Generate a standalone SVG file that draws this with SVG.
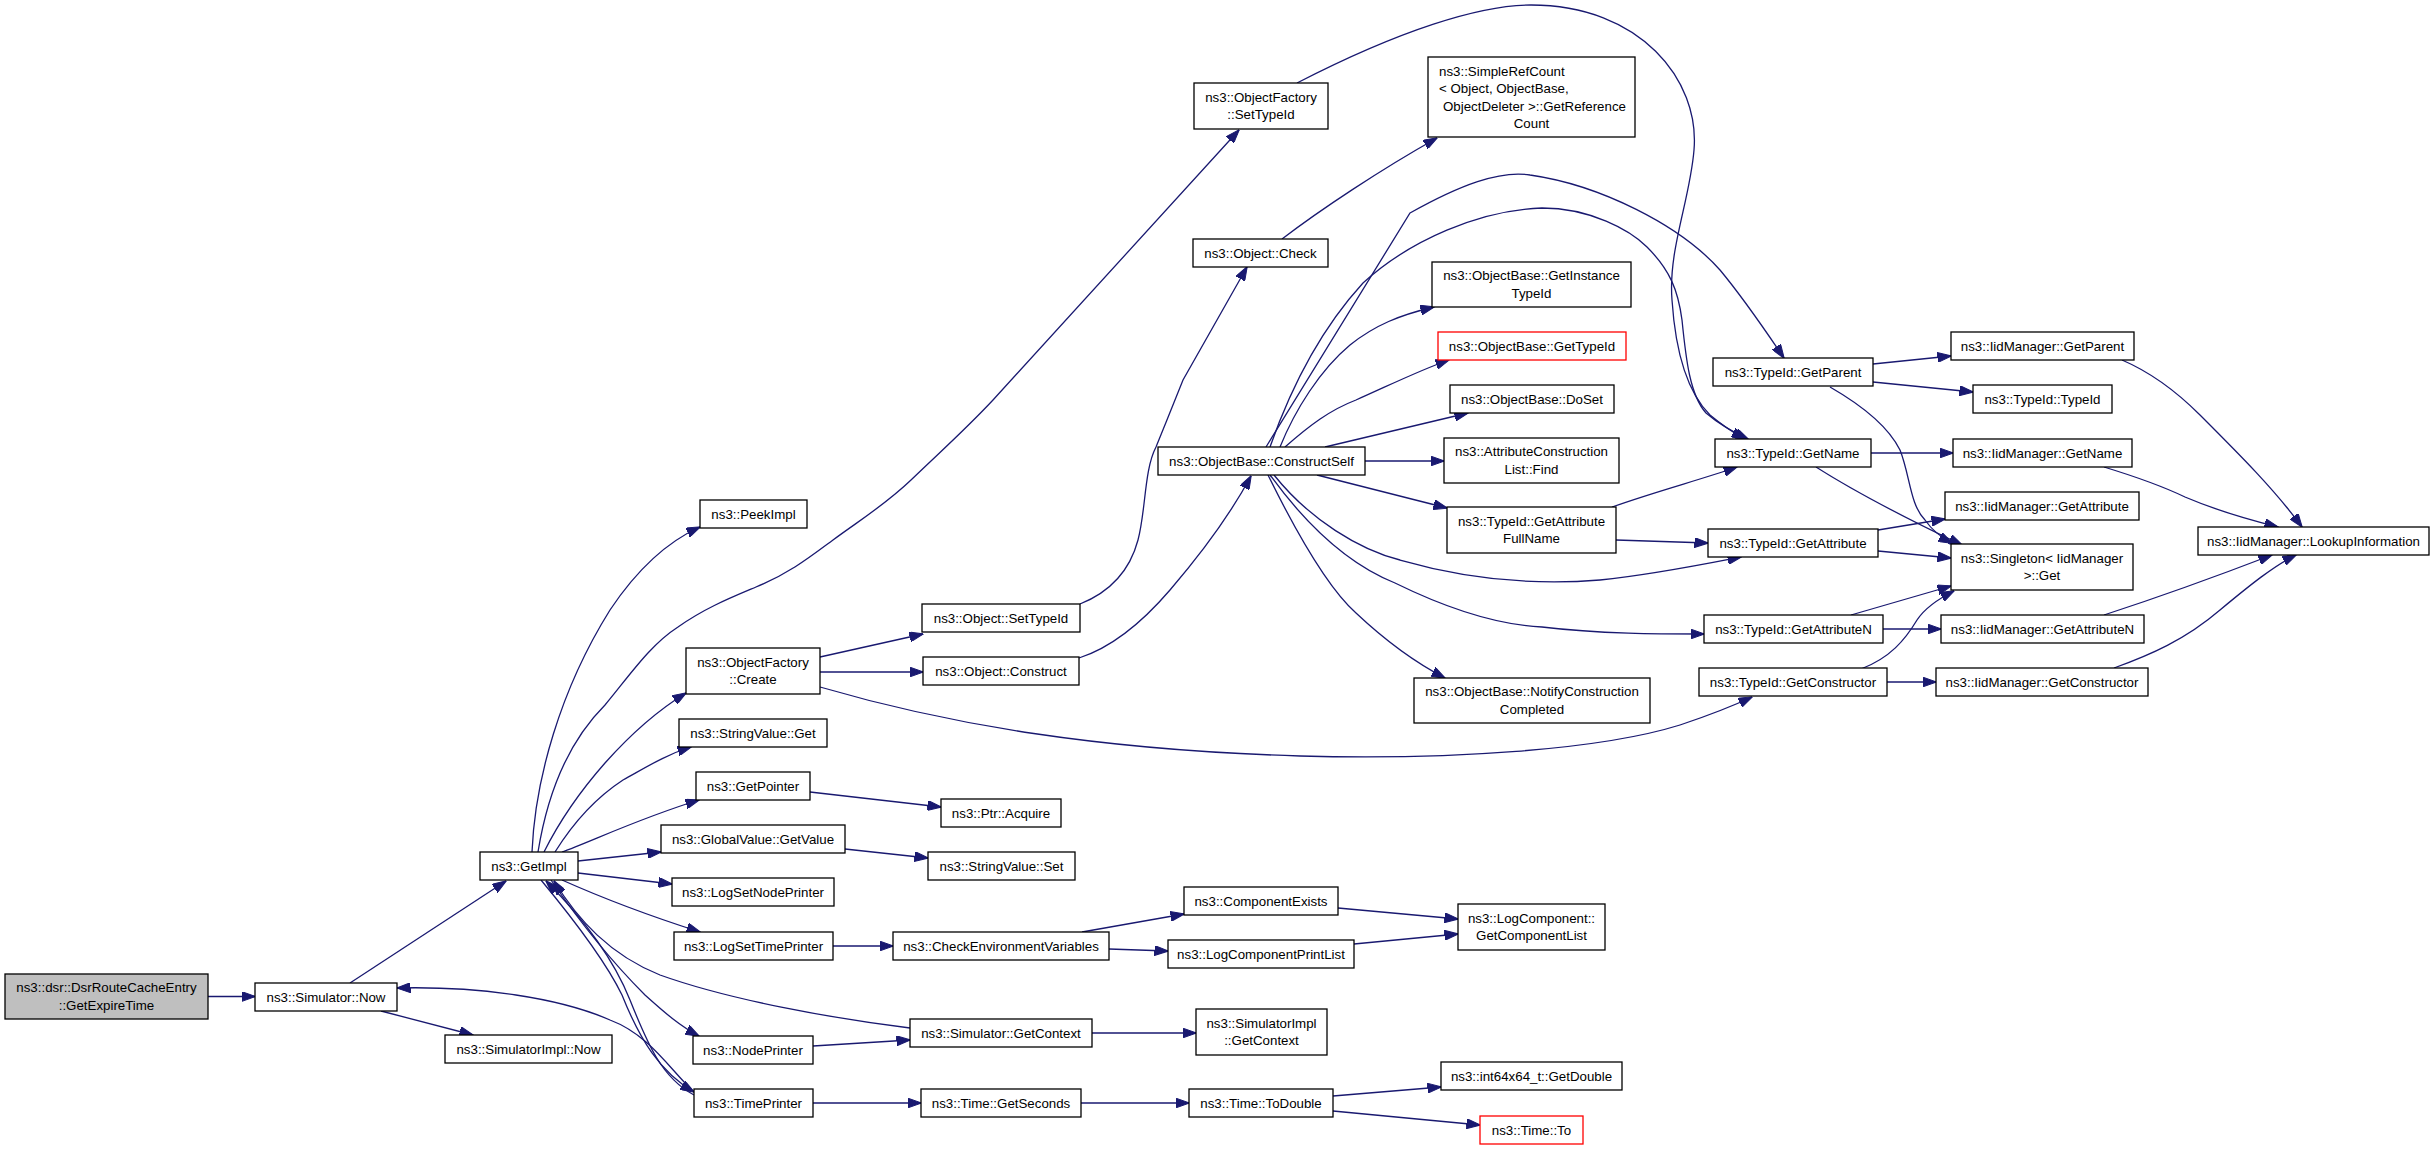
<svg xmlns="http://www.w3.org/2000/svg" width="2435" height="1150" viewBox="0 0 2435 1150">
<style>
.n rect{fill:#ffffff;stroke:#000000;stroke-width:1.3}
.root rect{fill:#bfbfbf}
.red rect{stroke:#ff0000}
text{font-family:"Liberation Sans",Arial,Helvetica,sans-serif;font-size:13.3px;fill:#000000;text-anchor:middle}
text.l{text-anchor:start}
.e path{fill:none;stroke:#191970;stroke-width:1.3;marker-end:url(#a)}
</style>
<defs>
<marker id="a" viewBox="0 0 14 10" refX="13.5" refY="5" markerWidth="14" markerHeight="10" markerUnits="userSpaceOnUse" orient="auto">
<path d="M0,0 L14,5 L0,10 z" fill="#191970" stroke="#191970" stroke-width="1"/>
</marker>
</defs>
<rect x="0" y="0" width="2435" height="1150" fill="#ffffff"/>
<g id="edges" class="e">
<path d="M208,996.5 L255,996.5"/>
<path d="M350,983 L506,881"/>
<path d="M381,1011 L473,1035"/>
<path d="M694,1092 C670,1070 650,1035 610,1020 C560,998 480,986 397,988"/>
<path d="M532,852 C535,780 560,690 610,610 C630,580 660,545 700,527"/>
<path d="M538,852 C548,790 570,740 605,705 C630,675 650,645 678,627 C705,608 730,598 756,587 C790,573 810,557 833,540 C860,520 885,505 911,480 C940,452 965,430 993,400 L1239,130"/>
<path d="M544,852 C565,810 590,780 605,763 C630,735 655,712 686,693"/>
<path d="M555,852 C575,820 600,795 623,780 C645,768 665,755 691,747"/>
<path d="M562,852 C590,842 640,818 699,800"/>
<path d="M578,861 L661,852"/>
<path d="M578,873 L672,884"/>
<path d="M562,880 C600,897 650,916 700,932"/>
<path d="M551,880 C575,915 610,960 645,995 C665,1013 680,1026 699,1036"/>
<path d="M541,880 C570,915 605,960 622,995 C640,1040 660,1072 694,1092"/>
<path d="M694,1095 C662,1078 648,1045 630,1000 C612,955 580,915 546,881"/>
<path d="M910,1028 C830,1018 730,1000 660,975 C610,955 578,920 554,881"/>
<path d="M820,657 L923,634"/>
<path d="M820,672 L923,672"/>
<path d="M820,687 C950,725 1100,750 1300,756 C1450,760 1600,750 1680,725 C1710,715 1735,705 1752,697"/>
<path d="M1080,604 C1110,592 1130,570 1138,540 C1146,510 1144,470 1156,447 C1165,425 1175,400 1183,380 L1247,267"/>
<path d="M1079,658 C1110,648 1140,625 1170,590 C1200,555 1230,515 1251,476"/>
<path d="M1282,239 C1320,210 1380,170 1437,138"/>
<path d="M1266,447 L1410,213 C1460,185 1500,170 1530,175 C1600,185 1680,225 1720,270 C1745,300 1765,330 1784,358"/>
<path d="M1270,447 C1290,390 1320,330 1363,283 C1410,240 1480,210 1542,208 C1590,208 1630,230 1647,247 C1670,270 1678,290 1682,320 C1686,360 1690,395 1706,413 C1720,425 1735,433 1748,439"/>
<path d="M1297,83 C1400,30 1480,5 1531,5 C1640,5 1700,80 1694,150 C1690,200 1668,250 1672,300 C1676,360 1690,395 1710,415 C1722,425 1732,432 1745,439"/>
<path d="M1280,447 C1295,410 1320,370 1350,345 C1375,325 1400,315 1434,307"/>
<path d="M1285,447 C1310,425 1330,410 1356,400 C1390,385 1420,370 1449,360"/>
<path d="M1325,447 L1468,413"/>
<path d="M1365,461 L1444,461"/>
<path d="M1317,475 L1447,508"/>
<path d="M1274,475 C1310,520 1360,550 1400,560 C1470,580 1540,585 1600,580 C1650,575 1700,565 1741,557"/>
<path d="M1270,475 C1310,530 1350,565 1395,583 C1450,610 1500,625 1542,627 C1600,634 1660,634 1704,634"/>
<path d="M1268,475 C1300,540 1330,590 1356,613 C1390,645 1420,665 1445,678"/>
<path d="M1612,507 C1660,490 1700,480 1737,467"/>
<path d="M1616,540 L1708,543"/>
<path d="M1873,364 L1951,356"/>
<path d="M1873,382 L1973,392"/>
<path d="M1830,387 C1870,410 1890,430 1900,450 C1910,475 1910,505 1925,520 C1932,530 1942,538 1952,543"/>
<path d="M1871,453 L1953,453"/>
<path d="M1816,467 C1860,495 1920,525 1962,545"/>
<path d="M1878,530 L1945,519"/>
<path d="M1878,551 L1951,558"/>
<path d="M1851,615 L1951,586"/>
<path d="M1883,629 L1941,629"/>
<path d="M1861,669 C1890,658 1905,640 1917,620 C1925,608 1940,598 1954,591"/>
<path d="M1887,682 L1936,682"/>
<path d="M2122,360 C2150,372 2175,390 2200,415 C2240,455 2275,490 2302,527"/>
<path d="M2104,467 C2140,478 2160,485 2185,497 C2220,512 2250,520 2278,527"/>
<path d="M2104,615 C2150,600 2220,575 2272,555"/>
<path d="M2114,668 C2150,655 2185,640 2220,610 C2250,585 2275,565 2296,555"/>
<path d="M810,792 L941,807"/>
<path d="M845,849 L928,858"/>
<path d="M833,946 L893,946"/>
<path d="M1082,932 L1184,914"/>
<path d="M1109,949 L1168,951"/>
<path d="M1338,908 L1458,919"/>
<path d="M1354,944 L1458,934"/>
<path d="M1092,1033 L1196,1033"/>
<path d="M813,1046 L910,1040"/>
<path d="M813,1103 L921,1103"/>
<path d="M1081,1103 L1189,1103"/>
<path d="M1333,1096 L1441,1087"/>
<path d="M1333,1111 L1480,1125"/>
</g>
<g id="root" class="n root"><rect x="5" y="974" width="203" height="45"/><text x="106.5" y="992">ns3::dsr::DsrRouteCacheEntry</text><text x="106.5" y="1009.5">::GetExpireTime</text></g>
<g id="simNow" class="n"><rect x="255" y="983" width="142" height="28"/><text x="326" y="1001.5">ns3::Simulator::Now</text></g>
<g id="getImpl" class="n"><rect x="480" y="852" width="98" height="28"/><text x="529" y="870.5">ns3::GetImpl</text></g>
<g id="simImplNow" class="n"><rect x="445" y="1035" width="167" height="28"/><text x="528.5" y="1053.5">ns3::SimulatorImpl::Now</text></g>
<g id="peekImpl" class="n"><rect x="700" y="500" width="107" height="28"/><text x="753.5" y="518.5">ns3::PeekImpl</text></g>
<g id="ofSetTypeId" class="n"><rect x="1194" y="83" width="134" height="46"/><text x="1261" y="101.5">ns3::ObjectFactory</text><text x="1261" y="119">::SetTypeId</text></g>
<g id="ofCreate" class="n"><rect x="686" y="648" width="134" height="46"/><text x="753" y="666.5">ns3::ObjectFactory</text><text x="753" y="684">::Create</text></g>
<g id="svGet" class="n"><rect x="679" y="719" width="148" height="28"/><text x="753" y="737.5">ns3::StringValue::Get</text></g>
<g id="getPointer" class="n"><rect x="696" y="772" width="114" height="28"/><text x="753" y="790.5">ns3::GetPointer</text></g>
<g id="gvGetValue" class="n"><rect x="661" y="825" width="184" height="28"/><text x="753" y="843.5">ns3::GlobalValue::GetValue</text></g>
<g id="logSetNodePrinter" class="n"><rect x="672" y="878" width="162" height="28"/><text x="753" y="896.5">ns3::LogSetNodePrinter</text></g>
<g id="logSetTimePrinter" class="n"><rect x="674" y="932" width="159" height="28"/><text x="753.5" y="950.5">ns3::LogSetTimePrinter</text></g>
<g id="nodePrinter" class="n"><rect x="693" y="1036" width="120" height="28"/><text x="753" y="1054.5">ns3::NodePrinter</text></g>
<g id="timePrinter" class="n"><rect x="694" y="1089" width="119" height="28"/><text x="753.5" y="1107.5">ns3::TimePrinter</text></g>
<g id="ptrAcquire" class="n"><rect x="941" y="799" width="120" height="28"/><text x="1001" y="817.5">ns3::Ptr::Acquire</text></g>
<g id="svSet" class="n"><rect x="928" y="852" width="147" height="28"/><text x="1001.5" y="870.5">ns3::StringValue::Set</text></g>
<g id="checkEnv" class="n"><rect x="893" y="932" width="216" height="28"/><text x="1001" y="950.5">ns3::CheckEnvironmentVariables</text></g>
<g id="simGetContext" class="n"><rect x="910" y="1019" width="182" height="28"/><text x="1001" y="1037.5">ns3::Simulator::GetContext</text></g>
<g id="timeGetSeconds" class="n"><rect x="921" y="1089" width="160" height="28"/><text x="1001" y="1107.5">ns3::Time::GetSeconds</text></g>
<g id="objSetTypeId" class="n"><rect x="922" y="604" width="158" height="28"/><text x="1001" y="622.5">ns3::Object::SetTypeId</text></g>
<g id="objConstruct" class="n"><rect x="923" y="657" width="156" height="28"/><text x="1001" y="675.5">ns3::Object::Construct</text></g>
<g id="componentExists" class="n"><rect x="1184" y="887" width="154" height="28"/><text x="1261" y="905.5">ns3::ComponentExists</text></g>
<g id="logCompPrintList" class="n"><rect x="1168" y="940" width="186" height="28"/><text x="1261" y="958.5">ns3::LogComponentPrintList</text></g>
<g id="simImplGetContext" class="n"><rect x="1196" y="1009" width="131" height="46"/><text x="1261.5" y="1027.5">ns3::SimulatorImpl</text><text x="1261.5" y="1045">::GetContext</text></g>
<g id="timeToDouble" class="n"><rect x="1189" y="1089" width="144" height="28"/><text x="1261" y="1107.5">ns3::Time::ToDouble</text></g>
<g id="objCheck" class="n"><rect x="1193" y="239" width="135" height="28"/><text x="1260.5" y="257.5">ns3::Object::Check</text></g>
<g id="constructSelf" class="n"><rect x="1158" y="447" width="207" height="28"/><text x="1261.5" y="465.5">ns3::ObjectBase::ConstructSelf</text></g>
<g id="getComponentList" class="n"><rect x="1458" y="904" width="147" height="46"/><text x="1531.5" y="922.5">ns3::LogComponent::</text><text x="1531.5" y="940">GetComponentList</text></g>
<g id="int64GetDouble" class="n"><rect x="1441" y="1062" width="181" height="28"/><text x="1531.5" y="1080.5">ns3::int64x64_t::GetDouble</text></g>
<g id="timeTo" class="n red"><rect x="1480" y="1116" width="103" height="28"/><text x="1531.5" y="1134.5">ns3::Time::To</text></g>
<g id="simpleRefCount" class="n"><rect x="1428" y="57" width="207" height="80"/><text class="l" x="1439" y="75.5">ns3::SimpleRefCount</text><text class="l" x="1439" y="93">&lt; Object, ObjectBase,</text><text class="l" x="1443" y="110.5">ObjectDeleter &gt;::GetReference</text><text x="1531.5" y="128">Count</text></g>
<g id="getInstanceTypeId" class="n"><rect x="1432" y="262" width="199" height="45"/><text x="1531.5" y="280">ns3::ObjectBase::GetInstance</text><text x="1531.5" y="297.5">TypeId</text></g>
<g id="obGetTypeId" class="n red"><rect x="1438" y="332" width="188" height="28"/><text x="1532" y="350.5">ns3::ObjectBase::GetTypeId</text></g>
<g id="doSet" class="n"><rect x="1450" y="385" width="164" height="28"/><text x="1532" y="403.5">ns3::ObjectBase::DoSet</text></g>
<g id="acFind" class="n"><rect x="1444" y="438" width="175" height="45"/><text x="1531.5" y="456">ns3::AttributeConstruction</text><text x="1531.5" y="473.5">List::Find</text></g>
<g id="getAttrFullName" class="n"><rect x="1447" y="507" width="169" height="46"/><text x="1531.5" y="525.5">ns3::TypeId::GetAttribute</text><text x="1531.5" y="543">FullName</text></g>
<g id="notifyCC" class="n"><rect x="1414" y="678" width="236" height="45"/><text x="1532" y="696">ns3::ObjectBase::NotifyConstruction</text><text x="1532" y="713.5">Completed</text></g>
<g id="tidGetParent" class="n"><rect x="1713" y="358" width="160" height="28"/><text x="1793" y="376.5">ns3::TypeId::GetParent</text></g>
<g id="tidGetName" class="n"><rect x="1715" y="439" width="156" height="28"/><text x="1793" y="457.5">ns3::TypeId::GetName</text></g>
<g id="tidGetAttribute" class="n"><rect x="1708" y="529" width="170" height="28"/><text x="1793" y="547.5">ns3::TypeId::GetAttribute</text></g>
<g id="tidGetAttributeN" class="n"><rect x="1704" y="615" width="179" height="28"/><text x="1793.5" y="633.5">ns3::TypeId::GetAttributeN</text></g>
<g id="tidGetConstructor" class="n"><rect x="1699" y="668" width="188" height="28"/><text x="1793" y="686.5">ns3::TypeId::GetConstructor</text></g>
<g id="iidGetParent" class="n"><rect x="1951" y="332" width="183" height="28"/><text x="2042.5" y="350.5">ns3::IidManager::GetParent</text></g>
<g id="tidTypeId" class="n"><rect x="1973" y="385" width="139" height="28"/><text x="2042.5" y="403.5">ns3::TypeId::TypeId</text></g>
<g id="iidGetName" class="n"><rect x="1953" y="439" width="179" height="28"/><text x="2042.5" y="457.5">ns3::IidManager::GetName</text></g>
<g id="iidGetAttribute" class="n"><rect x="1945" y="492" width="194" height="28"/><text x="2042" y="510.5">ns3::IidManager::GetAttribute</text></g>
<g id="singletonGet" class="n"><rect x="1951" y="544" width="182" height="46"/><text x="2042" y="562.5">ns3::Singleton&lt; IidManager</text><text x="2042" y="580">&gt;::Get</text></g>
<g id="iidGetAttributeN" class="n"><rect x="1941" y="615" width="203" height="28"/><text x="2042.5" y="633.5">ns3::IidManager::GetAttributeN</text></g>
<g id="iidGetConstructor" class="n"><rect x="1936" y="668" width="212" height="28"/><text x="2042" y="686.5">ns3::IidManager::GetConstructor</text></g>
<g id="lookupInfo" class="n"><rect x="2198" y="527" width="231" height="28"/><text x="2313.5" y="545.5">ns3::IidManager::LookupInformation</text></g>
</svg>
